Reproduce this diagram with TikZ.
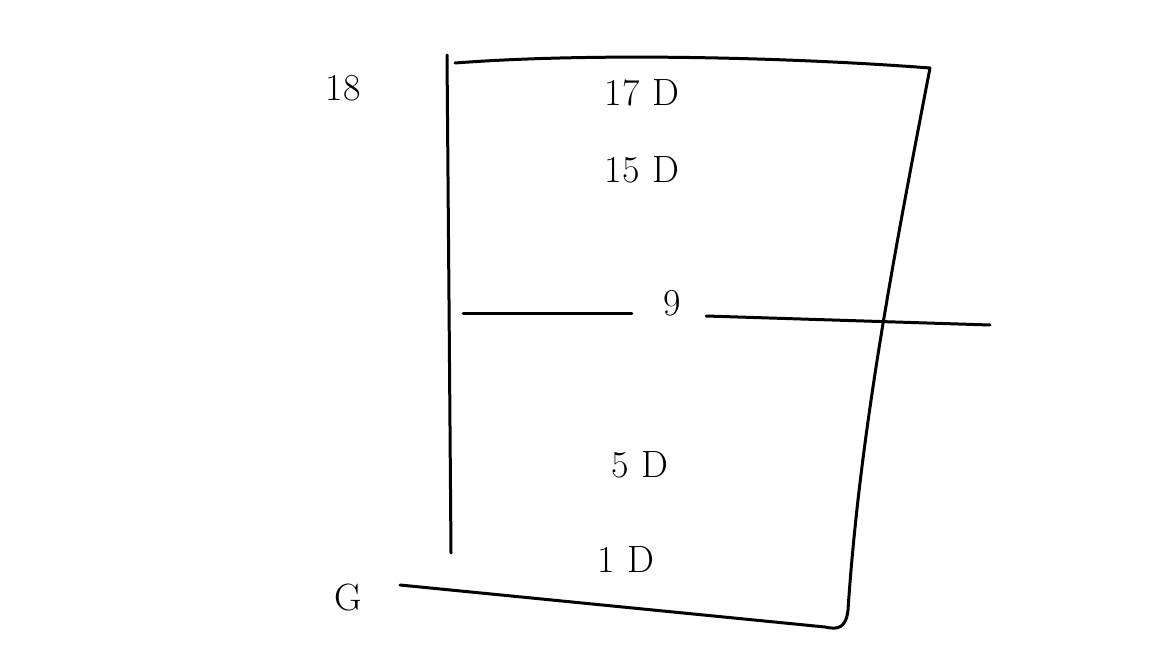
\documentclass[tikz,border=0pt]{standalone}
\usepackage{tikz}

\begin{document}
\begin{tikzpicture}
			[x=0.5pt,y=-0.5pt,
			line width=1.5pt,line cap=round,line join=round,
			every node/.style={font=\fontsize{19}{21}\selectfont,inner sep=1pt},
			level/.style={anchor=center}]
			\useasboundingbox (0,0) rectangle (1152,648);
			% outline of the building
			\draw (447,55) -- (449,300) -- (451,553);
			\draw (455,63) .. controls (600,52) and (800,58) .. (930,68)
				.. controls (895,250) and (860,430) .. (848,610)
				.. controls (846,628) and (838,630) .. (825,627)
				-- (400,585);
			% floors
			\node (top) at (343,88) {18};
			\node (ground) at (348,598) {G};
			\node[level] (f17) at (642,93) {17\,\,D};
			\node[level] (f15) at (642,170) {15\,\,D};
			\node (f9) at (672,303) {9};
			\node[level] (f5) at (640,465) {5\,\,D};
			\node[level] (f1) at (626,560) {1\,\,D};
			\coordinate (cutL) at (463,313);
			\coordinate (cutR) at (990,325);
			\draw (cutL) -- ([xshift=-14pt]f9.west |- cutL);
			\draw ([xshift=11pt]f9.east |- 0,316) -- (cutR);
		\end{tikzpicture}
\end{document}
